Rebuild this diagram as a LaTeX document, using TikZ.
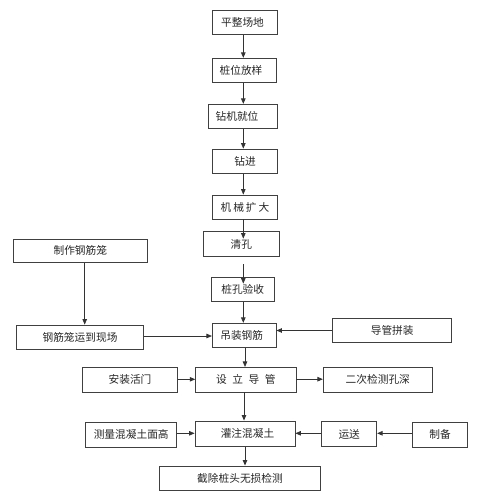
\documentclass[tikz,border=0pt]{standalone}
\usepackage{fontspec}
\setmainfont{Noto Sans CJK SC}
\usetikzlibrary{arrows.meta}
\tikzset{
  box/.style={draw=black!75, line width=0.8pt, inner sep=0pt, font=\fontsize{10.7pt}{12pt}\selectfont, text=black!85},
  arr/.style={draw=black!80, line width=0.8pt, -{Triangle[length=5.5pt,width=4.5pt]}}
}
\newcommand{\bx}[6]{\node[box, minimum width=#4pt, minimum height=#5pt] (#1) at (#2pt,-#3pt) {#6};}
\begin{document}
\begin{tikzpicture}[x=1pt,y=1pt]
\useasboundingbox (0,0) rectangle (496,-500);
\bx{pz}{245}{22.5}{64.6}{23.6}{\hspace*{-5pt}平整场地}
\bx{zw}{244.5}{70.3}{64.4}{24}{\hspace*{-7pt}桩位放样}
\bx{zj}{243}{116.3}{68.6}{24}{\hspace*{-12pt}钻机就位}
\bx{zjin}{245}{161.2}{64.6}{24.3}{钻进}
\bx{jx}{245}{207}{64.6}{24}{机\hspace{2pt}械\hspace{2pt}扩\hspace{2pt}大}
\bx{qk}{241.3}{244.2}{76}{25}{清孔}
\bx{ys}{242.7}{289.5}{63.3}{24.4}{桩孔验收}
\bx{zz}{80.3}{250.8}{134}{23.7}{制作钢筋笼}
\bx{yd}{80}{337}{126.6}{24}{钢筋笼运到现场}
\bx{dz}{244.2}{335.3}{63.7}{24}{\hspace*{-5pt}吊装钢筋}
\bx{dg}{392.2}{330.5}{119}{23.6}{导管拼装}
\bx{az}{130}{379.8}{94.6}{24.3}{安装活门}
\bx{sl}{245.8}{379.7}{100.3}{24.7}{设\hspace{5.5pt}立\hspace{5.5pt}导\hspace{5.5pt}管}
\bx{ec}{377.8}{379.8}{109}{24.3}{二次检测孔深}
\bx{cl}{131.2}{434.8}{91}{24.3}{测量混凝土面高}
\bx{gz}{245}{433.8}{100}{25.7}{\hspace*{5pt}灌注混凝土}
\bx{yss}{349.2}{434.2}{55}{25}{运送}
\bx{zb}{440}{434.7}{54.6}{24.7}{制备}
\bx{jc}{240}{478.3}{161.4}{24.7}{截除桩头无损检测}
% main vertical chain
\draw[arr] ([xshift=-1.7pt]pz.south) -- ([xshift=-1.2pt]zw.north);
\draw[arr] ([xshift=-1.2pt]zw.south) -- ([xshift=0.3pt]zj.north);
\draw[arr] ([xshift=0.3pt]zj.south) -- ([xshift=-1.7pt]zjin.north);
\draw[arr] ([xshift=-1.7pt]zjin.south) -- ([xshift=-1.7pt]jx.north);
\draw[arr] ([xshift=-1.7pt]jx.south) -- ([xshift=2pt,yshift=-7.3pt]qk.north);
\draw[arr] ([xshift=2pt,yshift=-7.3pt]qk.south) -- ([xshift=0.6pt,yshift=-6.7pt]ys.north);
\draw[arr] ([xshift=0.6pt]ys.south) -- ([xshift=-0.9pt]dz.north);
\draw[arr] ([xshift=4.4pt]zz.south) -- ([xshift=4.7pt]yd.north);
\draw[arr] ([yshift=1pt]yd.east) -- ([yshift=1pt]yd.east -| dz.west);
\draw[arr] (dg.west) -- (dg.west -| dz.east);
\draw[arr] ([xshift=0.8pt]dz.south) -- ([xshift=-0.8pt]sl.north);
\draw[arr] ([yshift=0.5pt]az.east) -- ([yshift=0.5pt]az.east -| sl.west);
\draw[arr] ([yshift=0.5pt]sl.east) -- ([yshift=0.5pt]sl.east -| ec.west);
\draw[arr] ([xshift=-1.8pt]sl.south) -- ([xshift=-1pt]gz.north);
\draw[arr] ([yshift=1.5pt]cl.east) -- ([yshift=1.5pt]cl.east -| gz.west);
\draw[arr] ([yshift=0.9pt]yss.west) -- ([yshift=0.9pt]yss.west -| gz.east);
\draw[arr] ([yshift=1.4pt]zb.west) -- ([yshift=1.4pt]zb.west -| yss.east);
\draw[arr] (gz.south) -- ([xshift=5pt]jc.north);
\end{tikzpicture}
\end{document}
